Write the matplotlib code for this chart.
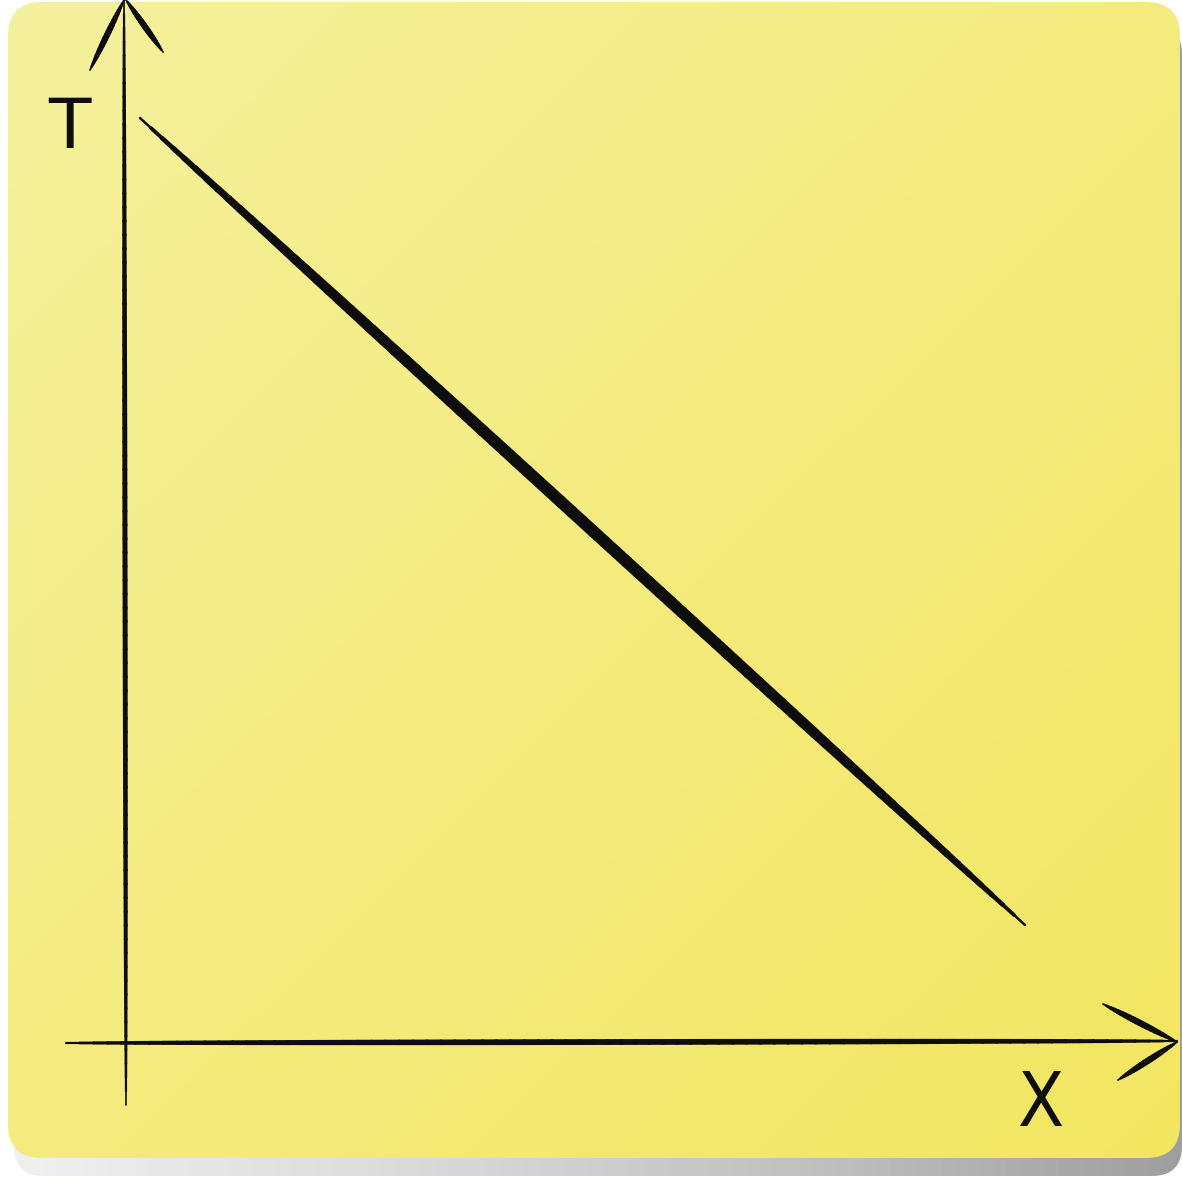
import numpy as np
import matplotlib.pyplot as plt
from matplotlib.collections import LineCollection
from matplotlib.patches import FancyBboxPatch

# data: temperature falls linearly along x
x_vals = [0.0, 1.0]
T_vals = [1.0, 0.0]
x_label = "X"
y_label = "T"

W = 1182
fig = plt.figure(figsize=(W / 100, W / 100), dpi=100)
fig.patch.set_facecolor("white")

# background axes in pixel space (sticky note + shadow)
bg = fig.add_axes([0, 0, 1, 1])
bg.set_xlim(0, W)
bg.set_ylim(W, 0)
bg.axis("off")

# shadow
sh = np.linspace(0, 1, 256)[None, :]
shadow = bg.imshow(sh, cmap="Greys", vmin=-0.35, vmax=2.5, extent=(8, 1182, 1176, 20),
                   aspect="auto", zorder=0, interpolation="bicubic")
sh_patch = FancyBboxPatch((14, 24), 1168, 1152, boxstyle="round,pad=0,rounding_size=30",
                          transform=bg.transData, fc="none", ec="none")
bg.add_patch(sh_patch)
shadow.set_clip_path(sh_patch)

# note with diagonal gradient
gx, gy = np.meshgrid(np.linspace(0, 1, 200), np.linspace(0, 1, 200))
g = (gx + gy) / 2
c0 = np.array([0xF6, 0xF1, 0x9E]) / 255
c1 = np.array([0xF2, 0xE6, 0x60]) / 255
img = c0 + (c1 - c0) * g[..., None]
note = bg.imshow(img, extent=(8, 1180, 1158, 2), aspect="auto", zorder=1, interpolation="bicubic")
note_patch = FancyBboxPatch((8, 2), 1172, 1156, boxstyle="round,pad=0,rounding_size=34",
                            transform=bg.transData, fc="none", ec="none")
bg.add_patch(note_patch)
note.set_clip_path(note_patch)


def brush(ax, x0, y0, x1, y1, width, n=80, z=5, power=0.6):
    # tapered stroke, thick in the middle and thin at the ends
    t = np.linspace(0, 1, n + 1)
    xs = x0 + (x1 - x0) * t
    ys = y0 + (y1 - y0) * t
    segs = np.stack([np.column_stack([xs[:-1], ys[:-1]]), np.column_stack([xs[1:], ys[1:]])], axis=1)
    tm = (t[:-1] + t[1:]) / 2
    lw = width * np.sin(np.pi * tm) ** power + 0.4
    lc = LineCollection(segs, linewidths=lw, colors="#0d0d0d", capstyle="round",
                        antialiaseds=True, zorder=z)
    ax.add_collection(lc)


# hand-drawn axes
brush(bg, 126, 1105, 124, 0, 3.2, power=0.35)
brush(bg, 66, 1043, 1177, 1041, 3.8, power=0.3)
brush(bg, 124, 0, 90, 70, 4.0, n=20)
brush(bg, 126, 0, 163, 52, 4.0, n=20)
brush(bg, 1177, 1042, 1103, 1004, 4.2, n=20)
brush(bg, 1177, 1042, 1118, 1080, 4.2, n=20)

bg.text(69, 128, y_label, fontsize=50, family="DejaVu Sans",
        ha="center", va="center", color="#0d0d0d", zorder=6)
bg.text(1041, 1106, x_label, fontsize=54, family="DejaVu Sans", fontstretch="condensed",
        ha="center", va="center", color="#0d0d0d", zorder=6)

# data axes, transparent, placed so the line lands where it is on the note
ax = fig.add_axes([0, 0, 1, 1])
ax.patch.set_alpha(0)
ax.axis("off")
px_x0, px_x1 = 140, 1025
px_y0, px_y1 = 118, 925
sx = (px_x1 - px_x0) / (x_vals[1] - x_vals[0])
sy = (px_y1 - px_y0) / (T_vals[0] - T_vals[1])
ax.set_xlim(x_vals[0] - px_x0 / sx, x_vals[0] + (W - px_x0) / sx)
ax.set_ylim(T_vals[1] - (W - px_y1) / sy, T_vals[0] + px_y0 / sy)

brush(ax, x_vals[0], T_vals[0], x_vals[1], T_vals[1], 8.3, power=0.45)

fig.savefig("out.png", dpi=100)
